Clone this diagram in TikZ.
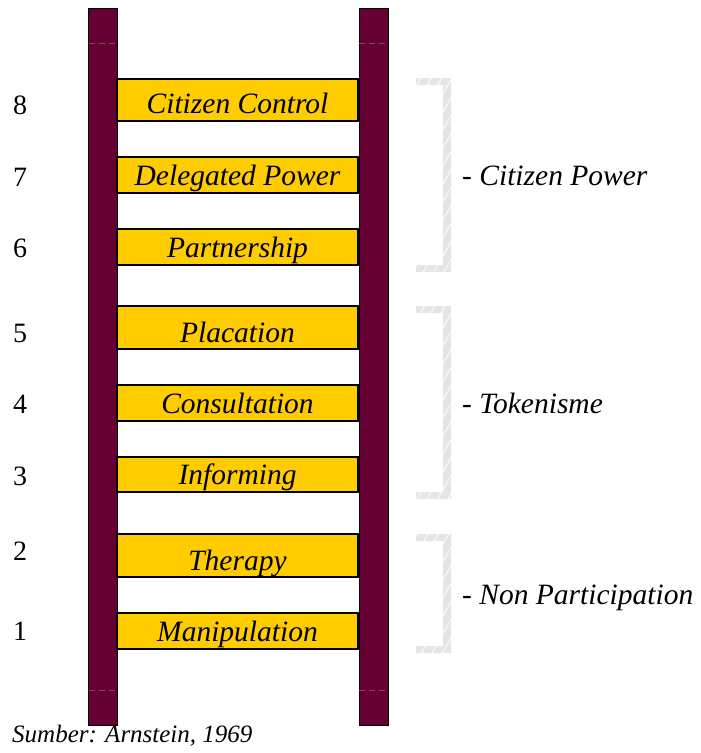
\documentclass[tikz,border=0pt]{standalone}
\usepackage{fontspec}
\setmainfont{Liberation Serif}
\usetikzlibrary{patterns.meta}
\definecolor{railred}{RGB}{102,0,51}
\definecolor{railline}{RGB}{150,60,105}
\definecolor{runggold}{RGB}{255,204,0}
\definecolor{bracketgray}{RGB}{229,229,229}
\tikzset{
  rail/.style={draw=black, line width=1pt, fill=railred, minimum width=29pt, minimum height=717pt, inner sep=0pt},
  rung/.style={draw=black, line width=1.5pt, fill=runggold, minimum width=241pt, inner sep=0pt},
  rungtext/.style={anchor=base, inner sep=0pt, font=\fontsize{29.5}{32}\selectfont\itshape},
  levelnum/.style={anchor=base, inner sep=0pt, font=\fontsize{28}{30}\selectfont},
  grouplabel/.style={anchor=base west, inner sep=0pt, font=\fontsize{29.5}{32}\selectfont\itshape},
  brace/.style={fill=bracketgray, postaction={pattern={Lines[angle=60,distance=9pt,line width=0.8pt]}, pattern color=white}},
  railmark/.style={draw=railline, line width=0.6pt, dash pattern=on 6pt off 4pt}
}
\begin{document}
\begin{tikzpicture}[x=1pt,y=-1pt]
\useasboundingbox (0,0) rectangle (701,753);

% ladder rails
\node[rail] (railL) at (102.5,366.5) {};
\node[rail] (railR) at (373.5,366.5) {};
\foreach \yy in {43,690}{
  \draw[railmark] (89,\yy) -- (116,\yy);
  \draw[railmark] (359,\yy) -- (388,\yy);
}

% rungs: centre, height, text baseline, text, level number baseline
\foreach \n/\c/\h/\b/\t/\nb in {
  8/100/42/113/{Citizen Control}/114,
  7/175/36/185/{Delegated Power}/186,
  6/247/36/257/{Partnership}/257,
  5/327.5/43/342/{Placation}/342,
  4/403/36/413/{Consultation}/413,
  3/474.5/35/484/{Informing}/485,
  2/555.5/43/570/{Therapy}/560,
  1/631/36/641/{Manipulation}/640}{
  \node[rung, minimum height=\h pt] (rung\n) at (237.5,\c) {};
  \node[rungtext] (label\n) at (237.5,\b) {\t};
  \node[levelnum] (num\n) at (20,\nb) {\n};
}

% group brackets
\foreach \g/\top/\bot in {power/78/272, token/306/499, nonpart/534/653}{
  \path[brace] (416,\top) -- (451,\top) -- (451,\bot) -- (416,\bot)
    -- (416,\bot-7) -- (443,\bot-7) -- (443,\top+7) -- (416,\top+7) -- cycle;
}
\node[grouplabel] (gpower) at (462,185) {- Citizen Power};
\node[grouplabel] (gtoken) at (462,413) {- Tokenisme};
\node[grouplabel] (gnonpart) at (462,604) {- Non Participation};

% source
\node[anchor=base west, inner sep=0pt, font=\fontsize{25}{27}\selectfont\itshape] (source) at (12,742) {Sumber: Arnstein, 1969};
\end{tikzpicture}
\end{document}
